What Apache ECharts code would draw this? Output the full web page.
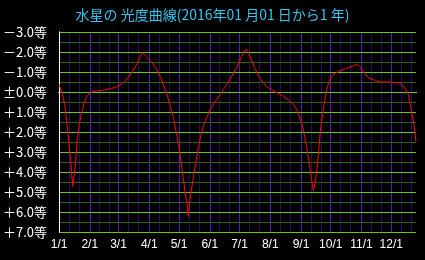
<!DOCTYPE html>
<html>
<head>
<meta charset="utf-8">
<script src="https://cdn.jsdelivr.net/npm/echarts@6/dist/echarts.min.js"></script>
<style>
html,body{margin:0;padding:0;background:#000;}
#c{width:425px;height:260px;}
</style>
</head>
<body>
<div id="c"></div>
<script>
// Day offsets from 2016-01-01 (1 unit = 1 day)
var days = [0,2.7,6,8.3,10,12,12.7,14,15.3,16.7,18,20,22.7,25.3,28,31.3,34.3,39.3,46,52.7,59.3,64.3,69.3,74.3,79.3,82,84.3,87.7,92.7,97.7,102.7,107.7,109,112.3,115.7,119,122.3,125,127.3,129,130.3,131.7,134,137.3,140.7,144,147.3,152.3,159,165.7,172.3,179,184,188.3,190.7,194,197.3,202.3,209,215.7,222.3,226,230.7,235.7,239,242.3,245.7,249,251.3,253.3,255,256.3,258.3,260,261.7,263.3,265.7,267.3,269,270.7,274,277.3,282.3,289,295.7,300.7,304,307.3,312.3,319,324,334,344,349,352.3,355.7,358.3,360];
// Apparent magnitude of Mercury
var mags = [-0.37,-0.03,0.72,1.72,2.55,3.55,4.13,4.72,4.05,3.55,2.55,1.72,1.05,0.55,0.22,0.05,-0.03,-0.05,-0.1,-0.17,-0.28,-0.45,-0.7,-1.03,-1.48,-1.82,-1.97,-1.78,-1.53,-1.2,-0.7,-0.03,0.14,0.72,1.38,2.22,3.22,4.22,5.05,5.55,6.22,5.55,4.72,3.72,2.72,1.97,1.47,0.88,0.38,-0.12,-0.62,-1.2,-1.78,-2.13,-2.03,-1.62,-1.2,-0.7,-0.28,-0.07,0.1,0.2,0.38,0.58,0.8,1.22,1.72,2.55,3.22,3.88,4.47,4.93,4.55,3.88,3.05,2.05,1.13,0.63,0.13,-0.28,-0.7,-0.9,-1.03,-1.17,-1.28,-1.4,-1.25,-0.98,-0.7,-0.58,-0.5,-0.5,-0.45,-0.2,0.13,1.05,1.72,2.5];
// Month start day offsets and their tick labels
var monthStarts = [0,31,60,91,121,152,182,213,244,274,305,335];
var monthLabels = ['1/1','2/1','3/1','4/1','5/1','6/1','7/1','8/1','9/1','10/1','11/1','12/1'];

var minorDays = [];
monthStarts.forEach(function(d){ minorDays.push(d+10, d+20); });
minorDays = minorDays.filter(function(d){ return d < 360; });

var seriesData = days.map(function(d,i){ return [d, mags[i]]; });

function magLabel(v){
  var s = Math.abs(v).toFixed(1) + '等';
  if (v < 0) return '－' + s;
  if (v === 0) return '±' + s;
  return '＋' + s;
}

var chart = echarts.init(document.getElementById('c'), null, {renderer:'canvas'});
chart.setOption({
  backgroundColor: '#000',
  animation: false,
  title: {
    text: '水星の 光度曲線(2016年01 月01 日から1 年)',
    left: 'center', top: 3,
    textStyle: {color:'#33c4f0', fontSize:14, fontWeight:'normal', fontFamily:'Noto Sans CJK JP'}
  },
  grid: {left:56, top:32, width:360, height:200, containLabel:false},
  xAxis: [{
    type:'value', min:0, max:360, position:'bottom', z:1,
    axisLine:{show:true, lineStyle:{color:'#fff', width:1}},
    axisTick:{show:false, customValues: monthStarts},
    axisLabel:{customValues: monthStarts, color:'#fff', fontSize:12, margin:7,
      fontFamily:'Liberation Sans',
      formatter:function(v){ var i = monthStarts.indexOf(v); return i>=0 ? monthLabels[i] : ''; }},
    splitLine:{show:true, lineStyle:{color:'#5a10d0', width:1}}
  },{
    type:'value', min:0, max:360, position:'top', z:0,
    axisLine:{show:true, lineStyle:{color:'#fff', width:1}},
    axisTick:{show:false, customValues: minorDays},
    axisLabel:{show:false},
    splitLine:{show:true, lineStyle:{color:'#2c0864', width:1}}
  }],
  yAxis: [{
    type:'value', inverse:true, min:-3, max:7, interval:1, position:'left', z:2,
    axisLine:{show:true, lineStyle:{color:'#fff', width:1}},
    axisTick:{show:false},
    axisLabel:{color:'#fff', fontSize:13, margin:12, fontFamily:'Noto Sans CJK JP', formatter: magLabel},
    splitLine:{show:true, lineStyle:{color:'#66cc00', width:1}},
    minorTick:{show:false, splitNumber:2},
    minorSplitLine:{show:true, lineStyle:{color:'#2f6400', width:1}}
  },{
    type:'value', inverse:true, min:-3, max:7, interval:1, position:'right', z:2,
    axisLine:{show:true, lineStyle:{color:'#fff', width:1}},
    axisTick:{show:false}, axisLabel:{show:false}, splitLine:{show:false}
  }],
  series: [{
    type:'line', xAxisIndex:0, yAxisIndex:0, data: seriesData,
    showSymbol:false, symbol:'none', smooth:false, z:10,
    lineStyle:{color:'#ff0000', width:1}
  }]
});
</script>
</body>
</html>
